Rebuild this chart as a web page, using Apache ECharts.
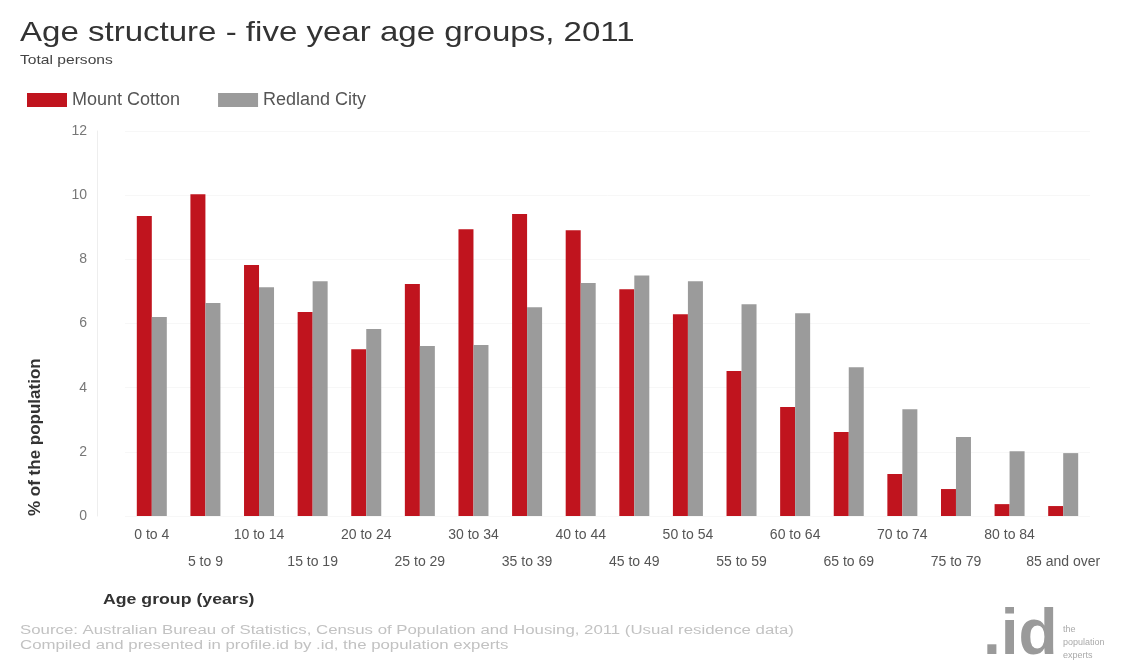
<!DOCTYPE html>
<html><head><meta charset="utf-8">
<script src="https://cdn.jsdelivr.net/npm/echarts@6/dist/echarts.min.js"></script>
<style>html,body{margin:0;padding:0;background:#fff}#c{width:1122px;height:670px}</style>
</head><body><div id="c"></div>
<script>
const categories = ['0 to 4','5 to 9','10 to 14','15 to 19','20 to 24','25 to 29','30 to 34','35 to 39','40 to 44','45 to 49','50 to 54','55 to 59','60 to 64','65 to 69','70 to 74','75 to 79','80 to 84','85 and over'];
const mountCotton = [9.35,10.03,7.82,6.36,5.2,7.23,8.94,9.41,8.91,7.07,6.29,4.52,3.4,2.62,1.31,0.84,0.37,0.31];
const redlandCity = [6.2,6.64,7.13,7.32,5.83,5.3,5.33,6.51,7.26,7.5,7.32,6.6,6.32,4.64,3.33,2.46,2.02,1.96];
const yTicks = [0,2,4,6,8,10,12];

const chart = echarts.init(document.getElementById('c'), null, {renderer:'canvas'});
const F = 'Liberation Sans, Arial, sans-serif';
chart.setOption({
  animation:false,
  backgroundColor:'#fff',
  legend:{left:22, top:86, icon:'rect', itemWidth:40, itemHeight:14, itemGap:38,
    textStyle:{fontFamily:F, fontSize:18, color:'#555'},
    data:['Mount Cotton','Redland City']},
  grid:{left:125, right:32, top:131, bottom:154, containLabel:false},
  xAxis:{type:'category', data:categories,
    axisLine:{show:false}, axisTick:{show:false},
    axisLabel:{interval:0, fontFamily:F, fontSize:14, color:'#555', margin:6, lineHeight:27,
      formatter:(v,i)=> i%2 ? '\n'+v : v}},
  yAxis:{type:'value', min:0, max:12, interval:2, offset:28,
    axisLine:{show:true, lineStyle:{color:'#eee'}}, axisTick:{show:false},
    axisLabel:{fontFamily:F, fontSize:14, color:'#777', margin:10,
      formatter:v=> yTicks.includes(v)? String(v):''},
    splitLine:{show:true, lineStyle:{color:'#f7f7f7'}}},
  series:[
    {name:'Mount Cotton', type:'bar', data:mountCotton, barWidth:15, barGap:'0%', itemStyle:{color:'#c0141e'}},
    {name:'Redland City', type:'bar', data:redlandCity, barWidth:15, barGap:'0%', itemStyle:{color:'#9b9b9b'}}
  ],
  graphic:[
    {type:'text', x:20, y:19, scaleX:1.18, style:{text:'Age structure - five year age groups, 2011', font:'28px '+F, fill:'#333'}},
    {type:'text', x:20, y:54, scaleX:1.2, style:{text:'Total persons', font:'13px '+F, fill:'#444'}},
    {type:'text', x:27, y:516, rotation:Math.PI/2, style:{text:'% of the population', font:'bold 17px '+F, fill:'#333', textVerticalAlign:'top'}},
    {type:'text', x:103, y:592, scaleX:1.18, style:{text:'Age group (years)', font:'bold 15px '+F, fill:'#333'}},
    {type:'text', x:20, y:625, scaleX:1.4, style:{text:'Source: Australian Bureau of Statistics, Census of Population and Housing, 2011 (Usual residence data)', font:'12px '+F, fill:'#c2c2c2'}},
    {type:'text', x:20, y:640, scaleX:1.4, style:{text:'Compiled and presented in profile.id by .id, the population experts', font:'12px '+F, fill:'#c2c2c2'}},
    {type:'text', x:983, y:604, style:{text:'.id', font:'bold 64px '+F, fill:'#9a9a9a'}},
    {type:'text', x:1063, y:623, style:{text:'the\npopulation\nexperts', font:'9px '+F, fill:'#aaa', lineHeight:13}}
  ]
});
</script></body></html>
